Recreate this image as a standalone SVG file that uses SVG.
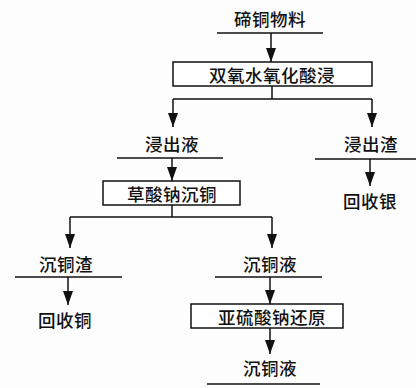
<svg xmlns="http://www.w3.org/2000/svg" width="416" height="388" viewBox="0 0 416 388">
<defs>
<marker id="ah" viewBox="0 0 14 10" refX="14" refY="5" markerWidth="14" markerHeight="10" markerUnits="userSpaceOnUse" orient="auto">
<path d="M0,0 L14,5 L0,10 z" fill="#111"/>
</marker>
<style>
.t{font-family:"Noto Sans CJK SC","Noto Sans",sans-serif;font-size:17.5px;font-weight:500;fill:#111;text-anchor:middle;dominant-baseline:central;letter-spacing:0.5px}
.l{stroke:#111;stroke-width:1.5;fill:none}
.a{stroke:#111;stroke-width:1.5;fill:none;marker-end:url(#ah)}
.b{stroke:#111;stroke-width:1.5;fill:#fff}
</style>
</defs>
<rect width="416" height="388" fill="#fdfdfd"/>
<g id="connectors">
<path class="a" d="M271,33 V62"/>
<path class="l" d="M272,86 V99 M173,99 H372"/>
<path class="a" d="M173,99 V127"/>
<path class="a" d="M372,99 V127"/>
<path class="a" d="M172,158 V181"/>
<path class="a" d="M370,159 V186"/>
<path class="l" d="M172,205 V217 M70,217 H272"/>
<path class="a" d="M70,217 V248"/>
<path class="a" d="M272,217 V248"/>
<path class="a" d="M68,277 V305"/>
<path class="a" d="M270,277 V304"/>
<path class="a" d="M270,328 V354"/>
</g>
<g id="n1"><text class="t" x="270" y="18">碲铜物料</text><path class="l" d="M217,33 H323"/></g>
<g id="n2"><rect class="b" x="173" y="62" width="199" height="24"/><text class="t" x="272" y="74">双氧水氧化酸浸</text></g>
<g id="n3"><text class="t" x="172" y="143">浸出液</text><path class="l" d="M117,158 H223"/></g>
<g id="n4"><text class="t" x="371" y="143">浸出渣</text><path class="l" d="M315,159 H416"/></g>
<g id="n5"><text class="t" x="370" y="200">回收银</text></g>
<g id="n6"><rect class="b" x="103" y="181" width="137" height="24"/><text class="t" x="172" y="193">草酸钠沉铜</text></g>
<g id="n7"><text class="t" x="66" y="263">沉铜渣</text><path class="l" d="M15,277 H122"/></g>
<g id="n8"><text class="t" x="270" y="263">沉铜液</text><path class="l" d="M215,277 H322"/></g>
<g id="n9"><text class="t" x="65" y="319">回收铜</text></g>
<g id="n10"><rect class="b" x="191" y="304" width="152" height="24"/><text class="t" x="272" y="316">亚硫酸钠还原</text></g>
<g id="n11"><text class="t" x="270" y="367">沉铜液</text><path class="l" d="M207,384 H320"/></g>
</svg>
